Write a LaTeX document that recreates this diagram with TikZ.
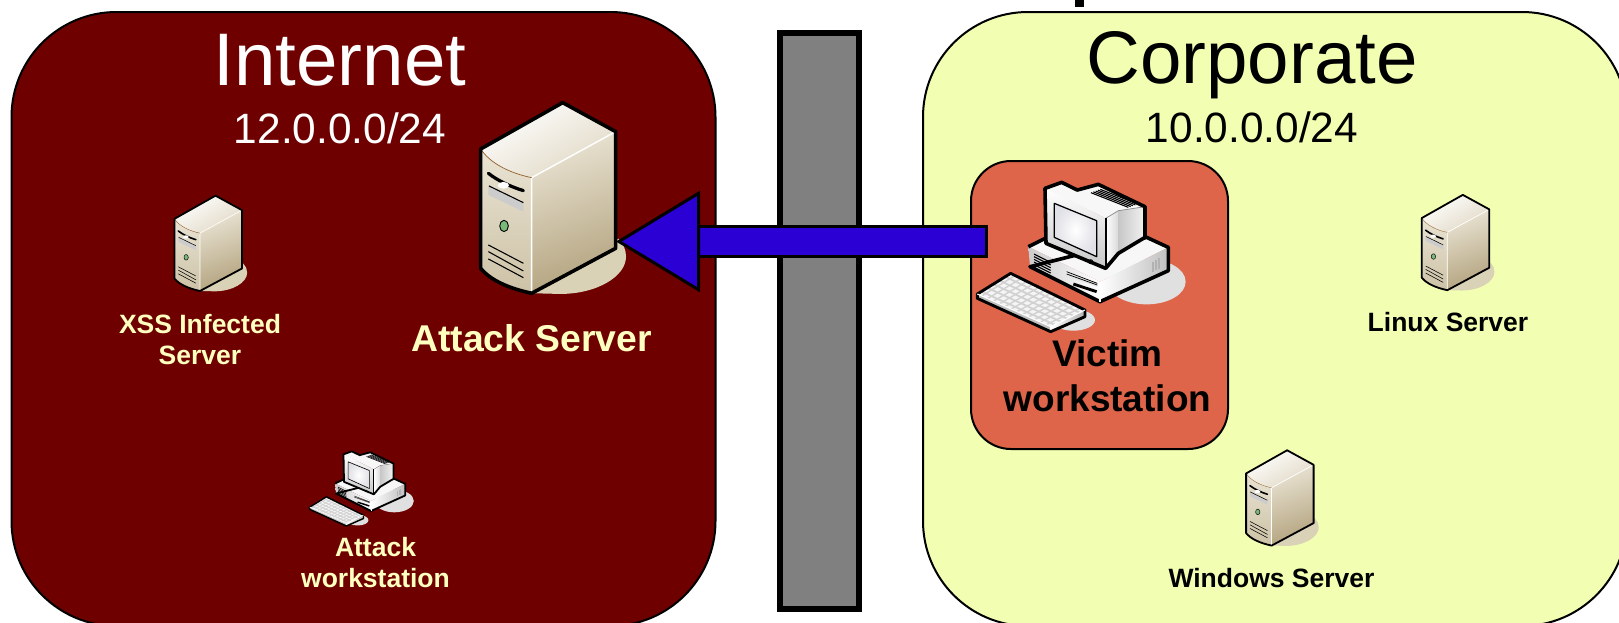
\documentclass[tikz,border=0pt]{standalone}
\usepackage{fontspec}
\setmainfont{Liberation Sans}
\usepackage{tikz}
\usetikzlibrary{positioning, arrows.meta, calc}

\definecolor{internetred}{HTML}{6E0000}
\definecolor{corpyellow}{HTML}{F2FFB3}
\definecolor{victimred}{HTML}{DE6549}
\definecolor{arrowblue}{HTML}{2B00D4}
\definecolor{wallgray}{HTML}{808080}
\definecolor{labelcream}{HTML}{FFFFC0}
\definecolor{srvshadow}{HTML}{D9D2B6}
\definecolor{srvlight}{HTML}{E9E3D3}
\definecolor{srvtan}{HTML}{B3A37E}
\definecolor{srvtop}{HTML}{E0D8C4}
\definecolor{srvfront}{HTML}{CDC2A6}

\tikzset{
  iconlw/.store in=\iconlw, iconlw=3.6pt,
  zone/.style={draw,line width=2pt,rounded corners=105pt,minimum width=704pt,minimum height=614pt},
  title/.style={text=#1,font=\fontsize{74.5}{74}\selectfont,anchor=base},
  subnet/.style={text=#1,font=\fontsize{42.4}{42}\selectfont},
  smalllabel/.style={text=#1,font=\fontsize{26.5}{31}\bfseries\selectfont,align=center,anchor=base},
  largelabel/.style={text=#1,font=\fontsize{37}{45}\bfseries\selectfont,align=center,anchor=base},
  blockarrow/.style={double=arrowblue,double distance=27pt,line width=3pt,
    {Bar[width=33pt,line width=3pt,color=black]}-{Triangle[length=84pt,width=101pt,line width=3pt,color=black,fill=arrowblue]}},
  servericon/.pic={
    \begin{scope}[shift={(-91.67,-213.33)},scale=.3333,line join=round]
      \fill[srvshadow] (285,640) -- (360,642) .. controls (470,642) and (558,590) .. (558,530)
        .. controls (558,510) and (550,490) .. (535,476) -- cycle;
      \shade[left color=srvlight,right color=srvtan,shading angle=20]
        (275,293) -- (527,155) -- (527,505) -- (275,640) -- cycle;
      \shade[left color=white,right color=srvtop,shading angle=30]
        (122,207) -- (368,68) -- (527,155) -- (275,293) .. controls (210,280) and (150,250) .. (122,207) -- cycle;
      \shade[top color=srvlight,bottom color=srvfront]
        (122,207) .. controls (150,250) and (210,280) .. (275,293) -- (275,640)
        .. controls (205,625) and (150,600) .. (122,565) -- cycle;
      \draw[white,line width=.4*\iconlw] (275,640) -- (275,293) -- (527,155);
      \draw[brown!80!black,line width=.2*\iconlw] (122,207) .. controls (150,250) and (210,280) .. (275,293);
      % front panel
      \draw[line width=.9*\iconlw,line cap=round] (145,280) .. controls (170,300) and (210,320) .. (250,332);
      \fill[black!20] (145,315) -- (250,370) -- (250,395) -- (145,345) -- cycle;
      \draw[line width=.3*\iconlw] (147,318) -- (250,368);
      \fill[white] (190,316) ellipse [x radius=17,y radius=10];
      \draw[fill=green!30!gray!80!white,line width=.25*\iconlw] (192,438) ellipse [x radius=13,y radius=17];
      \foreach \ya/\yb in {495/550,515/573,537/593}
        \draw[line width=.3*\iconlw] (145,\ya) -- (250,\yb);
      \draw[line width=\iconlw] (122,207) -- (368,68) -- (527,155) -- (527,505) -- (275,640)
        .. controls (205,625) and (150,600) .. (122,565) -- cycle;
    \end{scope}
  },
  pcicon/.pic={
    \begin{scope}[shift={(-140,-151.67)},scale=.3333,line join=round]
      \fill[black!12] (560,395) ellipse [x radius=117,y radius=68];
      \fill[black!12] (340,510) ellipse [x radius=65,y radius=32];
      % base unit
      \fill[black!3] (205,290) -- (262,262) -- (560,262) -- (625,292) -- (420,395) -- cycle;
      \shade[left color=black!20,right color=white] (205,290) -- (420,395) -- (420,455) -- (210,350) -- cycle;
      \shade[left color=white,right color=black!25] (420,395) -- (625,292) -- (625,362) -- (420,455) -- cycle;
      \foreach \i in {0,...,5}
        \draw[line width=.3*\iconlw] (222,{312+\i*8}) -- (272,{337+\i*8});
      \fill[black!10] (320,365) -- (412,400) -- (412,410) -- (320,380) -- cycle;
      \draw[line width=.2*\iconlw] (320,365) -- (412,400) (320,372) -- (412,405);
      \draw[line width=.8*\iconlw] (340,402) -- (410,425);
      \foreach \i in {0,1,2}
        \draw[black!30,line width=.5*\iconlw] ({578+\i*10},{335-\i*5}) -- ({578+\i*10},{366-\i*5});
      \draw[line width=\iconlw] (205,290) -- (262,262) (560,262) -- (625,292) -- (625,362) -- (420,455) -- (210,350) -- cycle;
      \draw[white,line width=.3*\iconlw] (420,395) -- (420,455);
      % monitor
      \fill[black!3] (255,115) -- (305,97) -- (352,120) -- (415,103) -- (555,170) -- (475,182) -- (437,205) -- cycle;
      \shade[left color=white,right color=black!15] (437,205) -- (475,182) -- (475,310) -- (437,355) -- cycle;
      \shade[left color=black!22,right color=black!5] (475,182) -- (555,170) -- (555,262) -- (475,310) -- cycle;
      \shade[top color=white,bottom color=black!22] (258,115) -- (437,205) -- (437,355) -- (258,280) -- cycle;
      \foreach \i in {0,...,4}
        \draw[line width=.3*\iconlw] ({393+\i*7},{128-\i*2.5}) -- ({505+\i*7},{172-\i*2.5});
      \draw[inner color=white,outer color=blue!20!black!12,line width=.35*\iconlw] (283,160) -- (410,212) -- (410,320) -- (283,262) -- cycle;
      \draw[fill=green!40!gray,line width=.25*\iconlw] (392,335) circle [radius=6];
      \draw[black!45,line width=.2*\iconlw] (437,205) -- (475,182) -- (555,170);
      \draw[line width=\iconlw] (255,115) -- (305,97) -- (352,120) -- (415,103) -- (555,170) -- (555,262)
        -- (475,310) -- (437,355) -- (258,280) -- cycle;
      \draw[line width=.6*\iconlw] (437,355) -- (437,205);
      % keyboard
      \coordinate (kba) at (52,432);
      \coordinate (kbb) at (152,370);
      \coordinate (kbc) at (375,480);
      \coordinate (kbd) at (272,530);
      \fill[black!4] (kba) -- (kbb) -- (kbc) -- (kbd) -- cycle;
      \foreach \t in {.12,.3,.48,.66,.84}
        \draw[black!18,line width=.5*\iconlw] ($(kba)!\t!(kbb)$) -- ($(kbd)!\t!(kbc)$);
      \foreach \t in {.06,.14,...,.95}
        \draw[black!18,line width=.4*\iconlw] ($(kba)!\t!(kbd)$) -- ($(kbb)!\t!(kbc)$);
      \fill[black!25] (kba) -- (kbd) -- (272,545) -- (52,445) -- cycle;
      \shade[left color=white,right color=black!30] (kbd) -- (kbc) -- (375,500) -- (272,545) -- cycle;
      \draw[line width=.8*\iconlw] (kba) -- (kbb) -- (kbc) -- (375,500) -- (272,545) -- (52,445) -- cycle;
      \draw[white,line width=.3*\iconlw] (kba) -- (kbd) -- (kbc);
    \end{scope}
  }
}

\begin{document}
\begin{tikzpicture}[x=1pt,y=-1pt,on grid]
  \clip (0,0) rectangle (1619,622);
  \useasboundingbox (0,0) rectangle (1619,622);
  % zones
  \node[zone,fill=internetred] (internet) at (363.5,319) {};
  \node[zone,fill=corpyellow] (corporate) at (1275,319) {};
  \node[draw,line width=2pt,fill=victimred,rounded corners=40pt,minimum width=257pt,minimum height=288pt] (victim) at (1099.5,305) {};
  \node[draw,line width=6pt,fill=wallgray,minimum width=79.6pt,minimum height=576.3pt] (firewall) at (819.5,321.2) {};
  \fill (1075,0) rectangle (1084,7);
  % titles
  \node[title=white] (internettitle) at (340,85.5) {Internet};
  \node[subnet=white,below=58pt of internettitle.base,anchor=base] (internetnet) {12.0.0.0/24};
  \node[title=black] (corptitle) at (1252,83) {Corporate};
  \node[subnet=black,below=59pt of corptitle.base,anchor=base] (corpnet) {10.0.0.0/24};
  % machines
  \pic (xssicon) [scale=.5,iconlw=1.8pt] at (200,291) {servericon};
  \pic (attackicon) at (531.7,293.3) {servericon};
  \pic (atkpcicon) [scale=.5,iconlw=1.8pt] at (371,511) {pcicon};
  \pic (victimicon) at (1100,301.7) {pcicon};
  \pic (linuxicon) [scale=.5,iconlw=1.8pt] at (1447.3,290.2) {servericon};
  \pic (windowsicon) [scale=.5,iconlw=1.8pt] at (1271.6,545.6) {servericon};
  % labels
  \node[smalllabel=labelcream] (xsslabel) at (200,364) {XSS Infected\\Server};
  \node[largelabel=labelcream,font=\fontsize{37.3}{45}\bfseries\selectfont] (attacklabel) at (531.5,351) {Attack Server};
  \node[smalllabel=labelcream] (atkpclabel) at (375.5,587.7) {Attack\\workstation};
  \node[largelabel=black] (victimlabel) at (1107.5,411.7) {Victim\\workstation};
  \node[smalllabel=black] (linuxlabel) at (1448,331) {Linux Server};
  \node[smalllabel=black] (windowslabel) at (1271.5,587) {Windows Server};
  % arrow from victim to attacker
  \coordinate (victimport) at (988,241.5);
  \coordinate (attackport) at (616,241.5);
  \draw[blockarrow] (victimport) -- (attackport);
\end{tikzpicture}
\end{document}
